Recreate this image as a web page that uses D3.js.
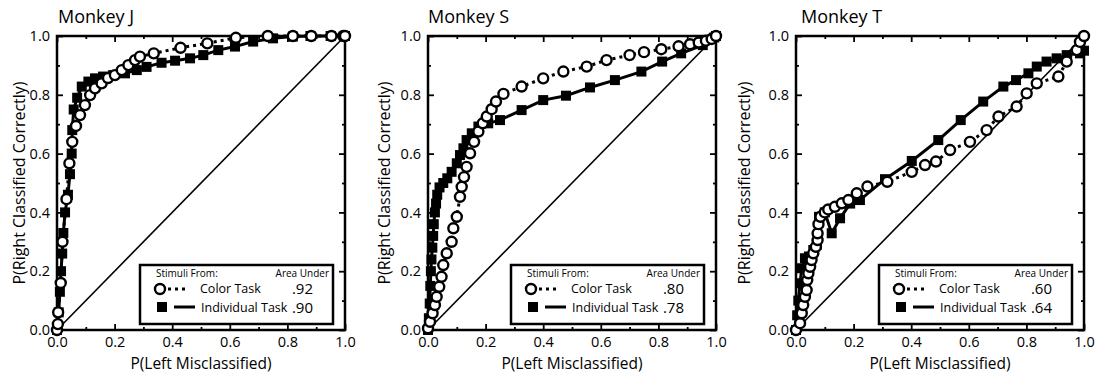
<!DOCTYPE html>
<html><head><meta charset="utf-8">
<script src="https://cdn.jsdelivr.net/npm/d3@7"></script>
<style>
html,body{margin:0;padding:0;background:#fff;}
svg{display:block;font-family:"Open Sans",sans-serif;}
</style></head>
<body>
<svg id="c" width="1096" height="374"></svg>
<script>
// ---- data ----
const titles = ["Monkey J", "Monkey S", "Monkey T"];
const aucColor = [".92", ".80", ".60"];
const aucIndiv = [".90", ".78", ".64"];
const xTicks = [0, 0.2, 0.4, 0.6, 0.8, 1.0];
const minorTicks = [0.1, 0.3, 0.5, 0.7, 0.9];

const jColor = [[0,0],[0.003,0.02],[0.004,0.06],[0.013,0.16],[0.019,0.30],[0.033,0.445],[0.043,0.567],[0.053,0.640],[0.066,0.694],[0.080,0.731],[0.097,0.765],[0.115,0.799],[0.132,0.822],[0.155,0.839],[0.177,0.857],[0.201,0.867],[0.225,0.884],[0.248,0.901],[0.271,0.918],[0.288,0.93],[0.336,0.941],[0.429,0.96],[0.522,0.975],[0.621,0.994],[0.732,1.0],[0.819,1.0],[0.883,1.0],[0.953,1.0],[0.994,1.0],[1,1]];
const jIndiv = [[0,0],[0.006,0.06],[0.01,0.13],[0.014,0.2],[0.018,0.26],[0.022,0.33],[0.028,0.4],[0.038,0.46],[0.045,0.53],[0.051,0.6],[0.053,0.68],[0.058,0.75],[0.07,0.79],[0.086,0.828],[0.109,0.845],[0.132,0.856],[0.16,0.862],[0.195,0.867],[0.236,0.873],[0.277,0.884],[0.311,0.895],[0.363,0.909],[0.41,0.916],[0.462,0.924],[0.508,0.935],[0.56,0.952],[0.618,0.964],[0.681,0.981],[0.75,0.992],[0.819,0.998],[0.88,1],[0.95,1],[1,1]];

const sColor = [[0,0.006],[0.007,0.028],[0.016,0.057],[0.024,0.085],[0.03,0.113],[0.039,0.147],[0.047,0.181],[0.053,0.221],[0.065,0.261],[0.082,0.30],[0.088,0.346],[0.1,0.385],[0.111,0.453],[0.117,0.487],[0.125,0.52],[0.134,0.555],[0.146,0.601],[0.16,0.64],[0.175,0.675],[0.19,0.703],[0.204,0.726],[0.221,0.751],[0.236,0.777],[0.262,0.803],[0.325,0.828],[0.4,0.856],[0.47,0.879],[0.551,0.896],[0.62,0.918],[0.70,0.935],[0.75,0.945],[0.81,0.955],[0.87,0.965],[0.91,0.972],[0.94,0.978],[0.965,0.984],[0.985,0.99],[1,1]];
const sIndiv = [[0,0],[0.003,0.04],[0.006,0.09],[0.008,0.15],[0.01,0.2],[0.012,0.24],[0.015,0.28],[0.018,0.32],[0.02,0.36],[0.024,0.4],[0.028,0.43],[0.032,0.46],[0.04,0.485],[0.053,0.50],[0.067,0.516],[0.082,0.538],[0.1,0.567],[0.111,0.595],[0.123,0.618],[0.134,0.646],[0.152,0.669],[0.175,0.692],[0.209,0.703],[0.25,0.714],[0.325,0.748],[0.4,0.782],[0.479,0.797],[0.5625,0.825],[0.649,0.85],[0.741,0.879],[0.813,0.913],[0.879,0.941],[0.954,0.969],[0.994,0.995],[1,1]];

const tColor = [[0,0],[0.014,0.023],[0.02,0.057],[0.025,0.085],[0.031,0.113],[0.037,0.136],[0.039,0.17],[0.043,0.193],[0.049,0.215],[0.054,0.238],[0.06,0.261],[0.069,0.283],[0.075,0.306],[0.075,0.329],[0.078,0.36],[0.085,0.385],[0.1,0.40],[0.112,0.41],[0.135,0.419],[0.159,0.431],[0.182,0.442],[0.211,0.465],[0.248,0.488],[0.317,0.504],[0.402,0.538],[0.448,0.561],[0.486,0.573],[0.535,0.612],[0.604,0.64],[0.662,0.68],[0.703,0.726],[0.766,0.76],[0.801,0.805],[0.836,0.839],[0.911,0.862],[0.94,0.913],[0.975,0.952],[0.986,0.98],[1,1]];
const tIndiv = [[0,0],[0.004,0.05],[0.008,0.1],[0.014,0.159],[0.02,0.21],[0.031,0.244],[0.045,0.25],[0.06,0.272],[0.072,0.29],[0.08,0.385],[0.1,0.40],[0.124,0.329],[0.153,0.38],[0.188,0.43],[0.222,0.442],[0.309,0.513],[0.402,0.575],[0.494,0.646],[0.572,0.714],[0.65,0.777],[0.72,0.828],[0.764,0.85],[0.807,0.873],[0.836,0.896],[0.87,0.913],[0.905,0.924],[0.94,0.935],[0.986,0.941],[1,0.95]];

const colorSeries = [jColor, sColor, tColor];
const indivSeries = [jIndiv, sIndiv, tIndiv];

// ---- layout ----
const panelLeft = [57, 428, 796];
const titleX = [58, 428, 801];
const yLabelX = [19, 384, 744];
const W = 288, TOP = 36, BOT = 330;

const svg = d3.select("#c");
const fmt = d3.format(".1f");

panelLeft.forEach((L, i) => {
  const x = d3.scaleLinear().domain([0, 1]).range([L, L + W]);
  const y = d3.scaleLinear().domain([0, 1]).range([BOT, TOP]);
  const g = svg.append("g");

  const mk = (ax, vals, size, labels) => ax.tickValues(vals).tickSize(size).tickSizeOuter(0)
      .tickFormat(labels ? fmt : "");
  g.append("g").attr("transform", `translate(0,${BOT})`).call(mk(d3.axisBottom(x), xTicks, -6, true).tickPadding(7));
  g.append("g").attr("transform", `translate(0,${BOT})`).call(mk(d3.axisBottom(x), minorTicks, -3, false));
  g.append("g").attr("transform", `translate(${L},0)`).call(mk(d3.axisLeft(y), xTicks, -6, true).tickPadding(7));
  g.append("g").attr("transform", `translate(${L},0)`).call(mk(d3.axisLeft(y), minorTicks, -3, false));
  g.append("g").attr("transform", `translate(0,${TOP})`).call(mk(d3.axisTop(x), xTicks, -6, false));
  g.append("g").attr("transform", `translate(0,${TOP})`).call(mk(d3.axisTop(x), minorTicks, -3, false));
  g.append("g").attr("transform", `translate(${L+W},0)`).call(mk(d3.axisRight(y), xTicks, -6, false));
  g.append("g").attr("transform", `translate(${L+W},0)`).call(mk(d3.axisRight(y), minorTicks, -3, false));
  g.selectAll(".domain").remove();
  g.selectAll(".tick text").filter(function(){ return this.textContent === ""; }).remove();
  g.selectAll(".tick line").attr("stroke", "#000").attr("stroke-width", 1.8);
  g.selectAll(".tick text").attr("font-size", 14.5).attr("fill", "#000").attr("font-family", "Open Sans");

  // frame
  g.append("rect").attr("x", x(0)).attr("y", y(1)).attr("width", x(1) - x(0)).attr("height", y(0) - y(1))
    .attr("fill", "none").attr("stroke", "#000").attr("stroke-width", 2.5);

  // diagonal
  g.append("line").attr("x1", x(0)).attr("y1", y(0)).attr("x2", x(1)).attr("y2", y(1))
    .attr("stroke", "#000").attr("stroke-width", 1.6);

  const line = d3.line().x(d => x(d[0])).y(d => y(d[1]));
  // individual task: solid line + squares
  g.append("path").datum(indivSeries[i]).attr("d", line).attr("fill", "none").attr("stroke", "#000").attr("stroke-width", 3);
  g.selectAll("rect.sq").data(indivSeries[i]).enter().append("rect").attr("class", "sq")
    .attr("x", d => x(d[0]) - 5).attr("y", d => y(d[1]) - 5).attr("width", 10).attr("height", 10).attr("fill", "#000");
  // color task: dotted line + open circles
  g.append("path").datum(colorSeries[i]).attr("d", line).attr("fill", "none").attr("stroke", "#000")
    .attr("stroke-width", 3).attr("stroke-dasharray", "3,4");
  g.selectAll("circle.ci").data(colorSeries[i]).enter().append("circle").attr("class", "ci")
    .attr("cx", d => x(d[0])).attr("cy", d => y(d[1])).attr("r", 5).attr("fill", "#fff")
    .attr("stroke", "#000").attr("stroke-width", 2.4);

  // title
  g.append("text").attr("x", titleX[i]).attr("y", 23).attr("font-size", 18).text(titles[i]);
  // axis labels
  g.append("text").attr("x", x(0.5)).attr("y", 369).attr("text-anchor", "middle").attr("font-size", 15.5)
    .text("P(Left Misclassified)");
  g.append("text").attr("transform", `translate(${yLabelX[i]},${(TOP + BOT) / 2}) rotate(-90)`)
    .attr("dy", "0.35em").attr("text-anchor", "middle").attr("font-size", 16)
    .text("P(Right Classified Correctly)");

  // legend
  const bx = L + W - 12 - 193, by = 265, bw = 193, bh = 59;
  const lg = g.append("g");
  lg.append("rect").attr("x", bx).attr("y", by).attr("width", bw).attr("height", bh)
    .attr("fill", "#fff").attr("stroke", "#000").attr("stroke-width", 2.5);
  lg.append("text").attr("x", bx + 16).attr("y", by + 12).attr("font-size", 10).text("Stimuli From:");
  lg.append("text").attr("x", bx + bw - 4).attr("y", by + 12).attr("font-size", 10).attr("text-anchor", "end").text("Area Under");
  lg.append("line").attr("x1", bx + 28).attr("x2", bx + 48).attr("y1", by + 24).attr("y2", by + 24)
    .attr("stroke", "#000").attr("stroke-width", 3).attr("stroke-dasharray", "3,4");
  lg.append("circle").attr("cx", bx + 20).attr("cy", by + 24).attr("r", 5).attr("fill", "#fff").attr("stroke", "#000").attr("stroke-width", 2.4);
  lg.append("text").attr("x", bx + 60).attr("y", by + 28).attr("font-size", 12.5).text("Color Task");
  lg.append("text").attr("x", bx + bw - 20).attr("y", by + 29).attr("font-size", 15).attr("text-anchor", "end").text(aucColor[i]);
  lg.append("rect").attr("x", bx + 17).attr("y", by + 37).attr("width", 10).attr("height", 10).attr("fill", "#000");
  lg.append("line").attr("x1", bx + 34).attr("x2", bx + 55).attr("y1", by + 42).attr("y2", by + 42)
    .attr("stroke", "#000").attr("stroke-width", 3);
  lg.append("text").attr("x", bx + 61).attr("y", by + 47).attr("font-size", 12.5).text("Individual Task");
  lg.append("text").attr("x", bx + bw - 20).attr("y", by + 48).attr("font-size", 15).attr("text-anchor", "end").text(aucIndiv[i]);
});
</script>
</body></html>
